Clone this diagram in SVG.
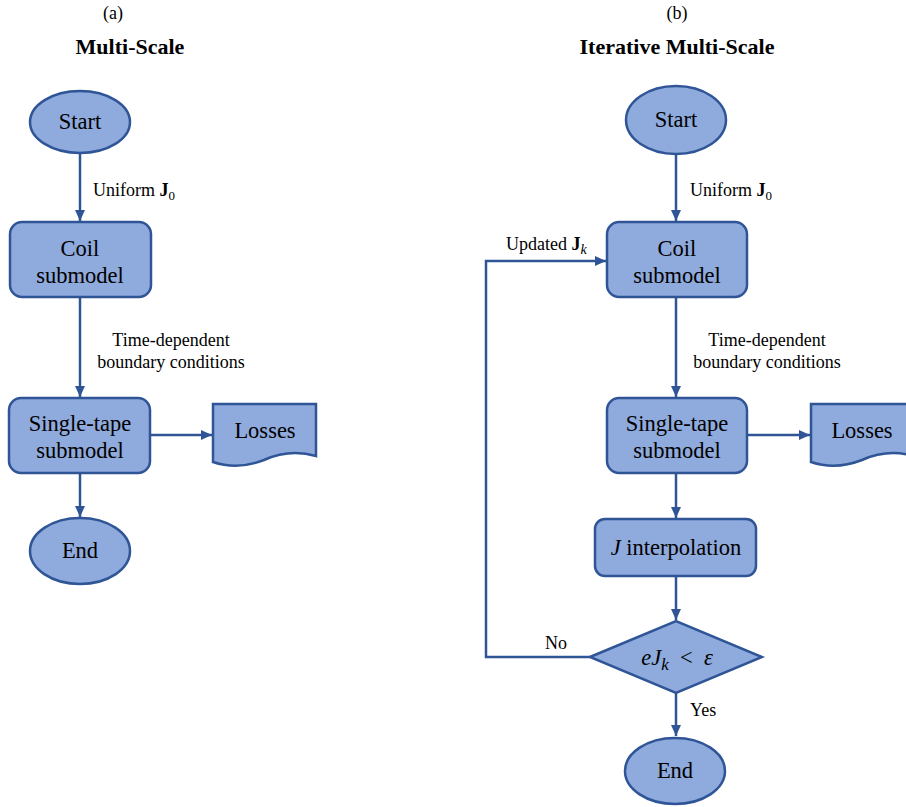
<svg xmlns="http://www.w3.org/2000/svg" width="906" height="807" viewBox="0 0 906 807">
<style>
.node{fill:#8FAADC;stroke:#2F5597;stroke-width:2.5}
.conn{fill:none;stroke:#2F5597;stroke-width:2.5}
text{font-family:"Liberation Serif","Times New Roman",serif;fill:#000}
.nt{font-size:22.5px;text-anchor:middle}
.lb{font-size:18px}
.ti{font-size:22px;font-weight:bold;text-anchor:middle}
.hd{font-size:18px;text-anchor:middle}
</style>
<defs>
<marker id="arr" markerUnits="userSpaceOnUse" markerWidth="11" markerHeight="10" refX="11" refY="5" orient="auto">
<path d="M0,0 L11,5 L0,10 Z" fill="#2F5597"/>
</marker>
</defs>
<rect width="906" height="807" fill="#fff"/>
<g id="titles">
<text class="hd" x="113" y="19">(a)</text>
<text class="ti" x="130" y="54">Multi-Scale</text>
<text class="hd" x="677" y="19">(b)</text>
<text class="ti" x="677" y="54">Iterative Multi-Scale</text>
</g>
<g id="connectors">
<line class="conn" x1="80" y1="153" x2="80" y2="221" marker-end="url(#arr)"/>
<line class="conn" x1="80" y1="298" x2="80" y2="397" marker-end="url(#arr)"/>
<line class="conn" x1="150" y1="435" x2="212" y2="435" marker-end="url(#arr)"/>
<line class="conn" x1="80" y1="473" x2="80" y2="517" marker-end="url(#arr)"/>
<line class="conn" x1="676" y1="154" x2="676" y2="221" marker-end="url(#arr)"/>
<line class="conn" x1="676" y1="298" x2="676" y2="397" marker-end="url(#arr)"/>
<line class="conn" x1="747" y1="435" x2="810" y2="435" marker-end="url(#arr)"/>
<line class="conn" x1="676" y1="473" x2="676" y2="518" marker-end="url(#arr)"/>
<line class="conn" x1="676" y1="576" x2="676" y2="620" marker-end="url(#arr)"/>
<line class="conn" x1="676" y1="693" x2="676" y2="736" marker-end="url(#arr)"/>
<polyline class="conn" points="590,657 486,657 486,261 606,261" marker-end="url(#arr)"/>
<text class="lb" x="93" y="196">Uniform <tspan font-weight="bold">J</tspan><tspan dy="4" font-size="13">0</tspan></text>
<text class="lb" x="171" y="346" text-anchor="middle">Time-dependent</text>
<text class="lb" x="171" y="368" text-anchor="middle">boundary conditions</text>
<text class="lb" x="690" y="196">Uniform <tspan font-weight="bold">J</tspan><tspan dy="4" font-size="13">0</tspan></text>
<text class="lb" x="767" y="346" text-anchor="middle">Time-dependent</text>
<text class="lb" x="767" y="368" text-anchor="middle">boundary conditions</text>
<text class="lb" x="506" y="250">Updated <tspan font-weight="bold">J</tspan><tspan dy="4" font-size="14" font-style="italic">k</tspan></text>
<text class="lb" x="545" y="649">No</text>
<text class="lb" x="690" y="716">Yes</text>
</g>
<g id="a-start"><ellipse class="node" cx="80" cy="122" rx="50" ry="31"/><text class="nt" x="80" y="129">Start</text></g>
<g id="a-coil"><rect class="node" x="10" y="222" width="141" height="75" rx="12"/><text class="nt" x="80" y="256">Coil</text><text class="nt" x="80" y="283">submodel</text></g>
<g id="a-tape"><rect class="node" x="9" y="398" width="141" height="75" rx="12"/><text class="nt" x="80" y="431">Single-tape</text><text class="nt" x="80" y="458">submodel</text></g>
<g id="a-losses"><path class="node" d="M213,404 H316 V456 C298,451 282,452 264,460 C246,467 228,467 213,462 Z"/><text class="nt" x="265" y="438">Losses</text></g>
<g id="a-end"><ellipse class="node" cx="80" cy="551" rx="50" ry="33"/><text class="nt" x="80" y="558">End</text></g>
<g id="b-start"><ellipse class="node" cx="676" cy="120" rx="50" ry="34"/><text class="nt" x="676" y="127">Start</text></g>
<g id="b-coil"><rect class="node" x="607" y="222" width="140" height="75" rx="12"/><text class="nt" x="677" y="256">Coil</text><text class="nt" x="677" y="283">submodel</text></g>
<g id="b-tape"><rect class="node" x="607" y="398" width="140" height="75" rx="12"/><text class="nt" x="677" y="431">Single-tape</text><text class="nt" x="677" y="458">submodel</text></g>
<g id="b-losses"><path class="node" d="M811,404 H914 V456 C896,451 880,452 862,460 C844,467 826,467 811,462 Z"/><text class="nt" x="862" y="438">Losses</text></g>
<g id="b-interp"><rect class="node" x="595" y="519" width="161" height="57" rx="10"/><text class="nt" x="676" y="555"><tspan font-style="italic">J</tspan> interpolation</text></g>
<g id="b-check"><path class="node" d="M590,657 L676,621 L762,657 L676,693 Z"/><text class="nt" x="677" y="665" font-size="24"><tspan font-style="italic">eJ</tspan><tspan font-style="italic" font-size="17" dy="5">k</tspan><tspan dy="-5" xml:space="preserve">  &lt;  </tspan><tspan font-style="italic">ε</tspan></text></g>
<g id="b-end"><ellipse class="node" cx="675" cy="771" rx="50" ry="33"/><text class="nt" x="675" y="778">End</text></g>
</svg>
